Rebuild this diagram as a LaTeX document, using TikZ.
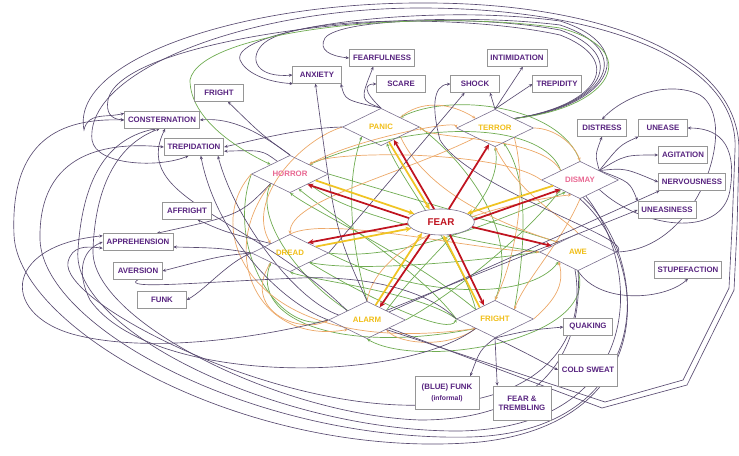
\documentclass[tikz,border=0pt]{standalone}
\usepackage{fontspec}
\setmainfont{Liberation Sans}
\usepackage{tikz}
\usetikzlibrary{shapes.geometric, arrows.meta}
\definecolor{boxpurple}{RGB}{88,36,128}
\definecolor{boxgray}{RGB}{150,150,150}
\definecolor{linegray}{RGB}{88,74,112}
\definecolor{fearred}{RGB}{192,20,32}
\definecolor{fearyel}{RGB}{240,196,36}
\definecolor{arcgreen}{RGB}{112,172,82}
\definecolor{arcorange}{RGB}{236,168,104}
\definecolor{pinktxt}{RGB}{232,104,146}
\definecolor{goldtxt}{RGB}{240,190,24}
\pgfdeclarelayer{bg}
\pgfsetlayers{bg,main}
\tikzset{
  box/.style={rectangle, draw=boxgray, fill=white, text=boxpurple,
    font=\fontsize{6.7}{7.8}\selectfont\bfseries, minimum width=1.45cm,
    minimum height=0.5cm, inner xsep=3pt, line width=0.6pt, align=center},
  dmd/.style={diamond, draw=linegray!80, aspect=2, minimum width=2.3cm,
    minimum height=1.12cm, inner sep=0pt, line width=0.5pt,
    font=\fontsize{6.7}{7.5}\selectfont\bfseries},
  fearell/.style={ellipse, draw=linegray!80, fill=white, text=fearred,
    minimum width=2.0cm, minimum height=0.78cm, line width=0.5pt,
    font=\fontsize{8.4}{9}\selectfont\bfseries},
  redarr/.style={-{Stealth[length=5pt,width=4.5pt]}, line width=1.5pt, color=fearred},
  yelarr/.style={-{Stealth[length=5pt,width=4.5pt]}, line width=1.5pt, color=fearyel},
  grn/.style={-{Stealth[length=3pt,width=2.6pt]}, line width=0.6pt, color=arcgreen},
  org/.style={-{Stealth[length=3pt,width=2.6pt]}, line width=0.6pt, color=arcorange},
  gry/.style={-{Stealth[length=3pt,width=2.6pt]}, line width=0.55pt, color=linegray},
  loop/.style={line width=0.55pt, color=linegray}
}
\begin{document}
\begin{tikzpicture}[x=0.03cm, y=-0.03cm]
  \useasboundingbox (0,0) rectangle (739,456);

  % Centre and the eight diamonds
  \node[fearell] (fear) at (441,222) {FEAR};
  \node[dmd, text=pinktxt] (horror) at (290,174) {HORROR};
  \node[dmd, text=goldtxt] (panic) at (381,127) {PANIC};
  \node[dmd, text=goldtxt] (terror) at (495,128) {TERROR};
  \node[dmd, text=pinktxt] (dismay) at (580,180) {DISMAY};
  \node[dmd, text=goldtxt] (dread) at (290,253) {DREAD};
  \node[dmd, text=goldtxt] (awe) at (578,252) {AWE};
  \node[dmd, text=goldtxt] (alarm) at (367,320) {ALARM};
  \node[dmd, text=goldtxt] (fright) at (495,319) {FRIGHT};

  % Boxes
  \node[box] (fearfulness) at (382,58) {FEARFULNESS};
  \node[box] (anxiety) at (317,75) {ANXIETY};
  \node[box] (scare) at (401,84) {SCARE};
  \node[box] (shock) at (475,84) {SHOCK};
  \node[box] (intimidation) at (517,58) {INTIMIDATION};
  \node[box] (trepidity) at (557,84) {TREPIDITY};
  \node[box] (frightbox) at (219,93) {FRIGHT};
  \node[box] (consternation) at (162,120) {CONSTERNATION};
  \node[box] (trepidation) at (194,147) {TREPIDATION};
  \node[box] (affright) at (187,211) {AFFRIGHT};
  \node[box] (distress) at (602,128) {DISTRESS};
  \node[box] (unease) at (663,128) {UNEASE};
  \node[box] (agitation) at (683,155) {AGITATION};
  \node[box] (nervousness) at (692,182) {NERVOUSNESS};
  \node[box] (uneasiness) at (667,210) {UNEASINESS};
  \node[box] (apprehension) at (138,242) {APPREHENSION};
  \node[box] (aversion) at (138,271) {AVERSION};
  \node[box] (funk) at (162,300) {FUNK};
  \node[box] (stupefaction) at (688,270) {STUPEFACTION};
  \node[box] (quaking) at (588,327) {QUAKING};
  \node[box, minimum height=0.96cm, minimum width=1.74cm] (coldsweat) at (588,370) {COLD SWEAT};
  \node[box, minimum height=0.99cm, minimum width=1.92cm] (bluefunk) at (447,393) {(BLUE) FUNK\\[1pt]{\fontsize{5.8}{6.6}\selectfont(informal)}};
  \node[box, minimum height=1.02cm, minimum width=1.74cm] (trembling) at (522,403) {FEAR \&\\TREMBLING};

  % Red and yellow spokes
  \draw[redarr] (fear.118) -- (panic.-45);
  \draw[yelarr] (panic.-62) -- (fear.132);
  \draw[redarr] (fear.59) -- (terror.-110);
  \draw[redarr] (fear.173) -- (horror.-31);
  \draw[yelarr] (horror.-14) -- (fear.163);
  \draw[redarr] (fear.-177) -- (dread.30);
  \draw[yelarr] (dread.14) -- (fear.-168);
  \draw[redarr] (fear.-132) -- (alarm.45);
  \draw[yelarr] (alarm.60) -- (fear.-150);
  \draw[redarr] (fear.-55) -- (fright.129);
  \draw[yelarr] (fright.143) -- (fear.-80);
  \draw[redarr] (fear.4) -- (dismay.-154);
  \draw[yelarr] (dismay.-168) -- (fear.18);
  \draw[redarr] (fear.-9) -- (awe.167);

  \begin{pgfonlayer}{bg}
  % Green arcs
  \draw[grn] (alarm.north west) .. controls (300,280) and (255,220) .. (horror.south west);
  \draw[grn] (fright.north west) .. controls (410,255) and (320,215) .. (horror.south);
  \draw[grn] (fright.west) .. controls (420,270) and (330,215) .. (horror.-60);
  \draw[grn] (awe.west) .. controls (460,240) and (345,215) .. (horror.south east);
  \draw[grn] (awe.west) .. controls (470,262) and (360,272) .. (dread.south east);
  \draw[grn] (fright.west) .. controls (420,292) and (310,280) .. (dread.south);
  \draw[grn] (fright.south west) .. controls (340,355) and (250,320) .. (dread.south west);
  \draw[grn] (alarm.north) .. controls (345,220) and (350,170) .. (panic.south west);
  \draw[grn] (fright.north west) .. controls (460,250) and (400,180) .. (panic.-70);
  \draw[grn] (alarm.north east) .. controls (430,250) and (505,200) .. (terror.south);
  \draw[grn] (fright.north east) .. controls (525,250) and (530,180) .. (terror.-60);
  \draw[grn] (alarm.east) .. controls (460,290) and (530,230) .. (dismay.south west);
  \draw[grn] (dread.east) .. controls (400,262) and (500,220) .. (dismay.-140);
  \draw[grn] (dismay.north) .. controls (560,105) and (450,92) .. (panic.north east);
  \draw[grn] (dismay.north west) .. controls (545,125) and (430,115) .. (horror.north east);
  \draw[grn] (horror.east) .. controls (400,195) and (520,230) .. (awe.north west);
  \draw[grn] (panic.east) .. controls (470,165) and (520,235) .. (fright.north);
  \draw[grn] (dread.south east) .. controls (380,305) and (450,335) .. (fright.west);
  \draw[grn] (horror.west) .. controls (225,250) and (280,335) .. (alarm.west);
  \draw[grn] (dread.east) .. controls (420,300) and (530,300) .. (awe.south west);
  \draw[grn] (awe.south) .. controls (600,340) and (420,370) .. (alarm.south);

  % Orange arcs
  \draw[org] (panic.north east) .. controls (420,100) and (450,102) .. (terror.north west);
  \draw[org] (horror.north east) .. controls (350,140) and (455,120) .. (terror.west);
  \draw[org] (dismay.north west) .. controls (540,135) and (430,140) .. (panic.east);
  \draw[org] (terror.east) .. controls (555,128) and (575,145) .. (dismay.north);
  \draw[org] (panic.west) .. controls (300,140) and (245,200) .. (dread.north west);
  \draw[org] (terror.south west) .. controls (400,175) and (290,200) .. (dread.north);
  \draw[org] (dread.south west) .. controls (240,310) and (300,335) .. (alarm.west);
  \draw[org] (horror.south west) .. controls (215,255) and (260,345) .. (alarm.south west);
  \draw[org] (dismay.south) .. controls (560,245) and (525,280) .. (fright.north east);
  \draw[org] (terror.south east) .. controls (530,200) and (510,270) .. (fright.north);
  \draw[org] (panic.south east) .. controls (430,200) and (520,230) .. (awe.north west);
  \draw[org] (fright.east) .. controls (555,300) and (565,285) .. (awe.south west);
  \draw[org] (fright.south west) .. controls (450,348) and (400,345) .. (alarm.south east);
  \draw[org] (dismay.west) .. controls (500,150) and (330,150) .. (horror.north east);
  \draw[org] (horror.west) .. controls (200,230) and (250,360) .. (fright.south west);
  \draw[org] (alarm.north) .. controls (380,230) and (520,200) .. (dismay.-120);
  \draw[org] (dread.north) .. controls (330,215) and (470,250) .. (awe.west);
  \draw[org] (awe.north) .. controls (560,215) and (520,195) .. (terror.south);

  % Grey links to the boxes
  \draw[gry] (horror.north) .. controls (262,135) .. (frightbox);
  \draw[gry] (horror.north) .. controls (250,125) and (225,118) .. (consternation.east);
  \draw[gry] (panic.west) .. controls (300,128) and (255,140) .. (trepidation.east);
  \draw[gry] (horror.135) .. controls (262,150) .. (trepidation.-8);
  \draw[gry] (panic.north) .. controls (360,100) .. (fearfulness.-135);
  \draw[gry] (panic.north) .. controls (362,90) and (365,84) .. (scare.west);
  \draw[gry] (panic.north) .. controls (345,100) .. (anxiety.-20);
  \draw[gry] (terror.north) -- (shock.-30);
  \draw[gry] (terror.north) -- (intimidation.-56);
  \draw[gry] (terror.north) -- (trepidity.west);
  \draw[gry] (dismay.north east) .. controls (595,155) .. (distress.south);
  \draw[gry] (dismay.north east) .. controls (620,145) .. (unease.south west);
  \draw[gry] (dismay.north east) .. controls (625,155) .. (agitation.west);
  \draw[gry] (dismay.north east) .. controls (625,168) .. (nervousness.west);
  \draw[gry] (dismay.north east) .. controls (630,182) .. (uneasiness.north west);
  \draw[gry] (alarm.north east) -- (uneasiness.west);
  \draw[gry] (alarm.20) -- (nervousness.-165);
  \draw[gry] (awe.south) .. controls (600,305) and (665,300) .. (stupefaction.south);
  \draw[gry] (fright.south) .. controls (530,330) .. (quaking.west);
  \draw[gry] (fright.south) .. controls (520,350) .. (coldsweat.west);
  \draw[gry] (fright.south) .. controls (480,350) .. (bluefunk.36);
  \draw[gry] (fright.south) -- (trembling.145);
  \draw[gry] (dread.west) .. controls (220,256) .. (aversion.east);
  \draw[gry] (dread.west) .. controls (220,248) .. (apprehension.-8);
  \draw[gry] (horror.south west) .. controls (240,215) .. (apprehension.25);
  \draw[gry] (dread.west) .. controls (228,262) and (205,290) .. (funk.east);
  \draw[gry] (dread.north west) .. controls (225,232) .. (affright.-40);
  \draw[gry] (alarm.north) .. controls (335,230) .. (anxiety.-100);
  \draw[gry] (dread.east) -- (shock.-140);
  \draw[gry] (awe.east) .. controls (640,240) and (470,190) .. (440,140)
    .. controls (432,110) and (432,85) .. (shock.west);
  \draw[gry] (alarm.west) .. controls (275,300) and (215,230) .. (trepidation.-52);
  \draw[gry] (alarm.170) .. controls (295,300) and (235,220) .. (trepidation.-20);
  \draw[gry] (alarm.155) .. controls (250,215) and (130,200) .. (consternation.-70);
  \draw[gry] (dismay.south east) .. controls (640,228) and (722,240) .. (730,190)
    .. controls (738,140) and (715,128) .. (unease.east);
  \draw[gry] (awe.east) .. controls (700,250) and (740,120) .. (700,95)
    .. controls (670,80) and (625,95) .. (distress.north);

  % Top bundle from terror
  \draw[gry] (terror.north east) .. controls (600,105) and (625,60) .. (560,35)
    .. controls (470,15) and (290,15) .. (262,45) .. controls (248,60) and (258,78) .. (anxiety.west);
  \draw[gry] (terror.north east) .. controls (605,105) and (630,55) .. (560,30)
    .. controls (480,15) and (340,18) .. (325,38) .. controls (318,50) and (330,56) .. (fearfulness.west);
  \draw[gry] (terror.north east) .. controls (610,105) and (636,50) .. (560,25)
    .. controls (400,5) and (120,40) .. (108,100) .. controls (106,112) and (110,119) .. (consternation.west);
  \draw[gry] (terror.north east) .. controls (614,106) and (640,46) .. (560,21)
    .. controls (420,2) and (230,30) .. (240,60) .. controls (245,72) and (265,82) .. (anxiety.-160);
  \draw[grn] (terror.north east) .. controls (612,108) and (645,50) .. (560,28)
    .. controls (420,8) and (200,30) .. (190,80) .. controls (190,120) and (240,150) .. (horror.north west);

  % Outer double path from alarm
  \draw[gry] (alarm.south east) -- (605,402) -- (683,380) -- (729,288) -- (732,228) -- (735,150)
    .. controls (740,60) and (600,8) .. (420,8) .. controls (250,8) and (85,70) .. (92,140)
    .. controls (96,166) and (160,168) .. (trepidation.-122);
  \draw[gry] (alarm.-20) -- (602,408) -- (687,385) -- (734,290) -- (737,228) -- (739,150)
    .. controls (739,55) and (600,2) .. (420,3) .. controls (240,3) and (70,60) .. (84,130)
    .. controls (88,112) and (105,118) .. (consternation.170);

  % Big loops round the bottom and the left
  \draw[gry] (dismay.south) .. controls (650,260) and (662,422) .. (480,442)
    .. controls (250,462) and (18,330) .. (14,235) .. controls (10,140) and (60,118) .. (consternation.west);
  \draw[gry] (dismay.-80) .. controls (656,266) and (652,432) .. (470,437)
    .. controls (260,442) and (44,330) .. (40,240) .. controls (38,150) and (110,142) .. (trepidation.west);
  \draw[gry] (dismay.-70) .. controls (646,272) and (642,427) .. (460,431)
    .. controls (280,432) and (70,330) .. (78,250) .. controls (82,190) and (100,140) .. (consternation.-125);
  \draw[gry] (awe.south) .. controls (582,330) and (562,420) .. (420,420)
    .. controls (280,415) and (90,320) .. (93,250) .. controls (95,190) and (115,145) .. (consternation.-105);
  \draw[gry] (awe.-100) .. controls (588,342) and (540,410) .. (400,405)
    .. controls (250,400) and (60,300) .. (68,262) .. controls (72,246) and (85,246) .. (apprehension.-170);
  \draw[gry] (alarm.west) .. controls (250,340) and (150,352) .. (80,336)
    .. controls (0,318) and (0,246) .. (apprehension.170);
  \draw[gry] (fright.south west) .. controls (400,385) and (150,385) .. (90,300)
    .. controls (76,272) and (82,250) .. (apprehension.west);
  \draw[loop] (aversion.south) .. controls (120,290) and (200,282) .. (300,278)
    .. controls (350,276) and (420,284) .. (fright.west);
  \end{pgfonlayer}
\end{tikzpicture}
\end{document}
